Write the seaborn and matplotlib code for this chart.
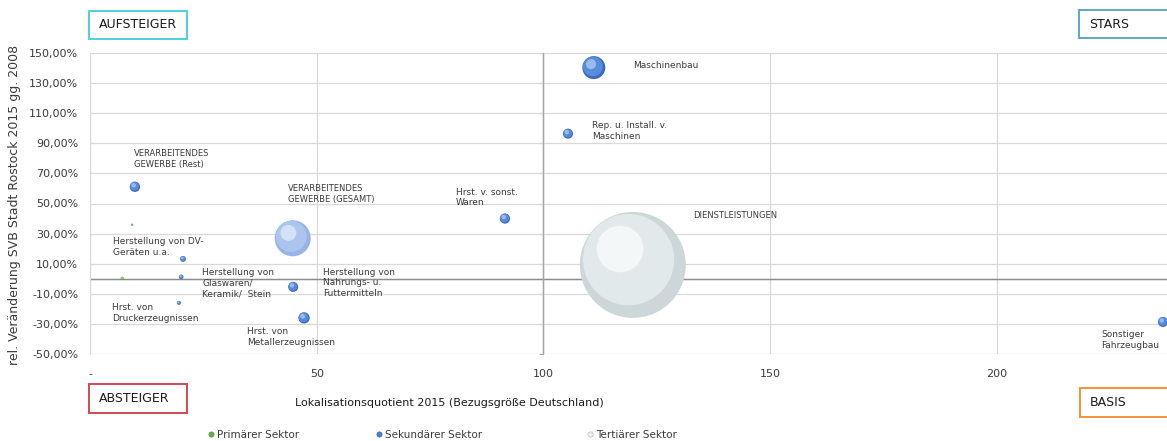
import numpy as np
import pandas as pd
import matplotlib.pyplot as plt
import seaborn as sns
from matplotlib.path import Path
from matplotlib.patches import Rectangle
from matplotlib.lines import Line2D
from matplotlib.ticker import FuncFormatter

# ---------- Daten ----------
beschriftung = [
    "Maschinenbau",
    "Rep. u. Install. v.\nMaschinen",
    "Hrst. v. sonst.\nWaren",
    "DIENSTLEISTUNGEN",
    "VERARBEITENDES\nGEWERBE (GESAMT)",
    "VERARBEITENDES\nGEWERBE (Rest)",
    "",
    "Herstellung von DV-\nGeräten u.a.",
    "Herstellung von\nGlaswaren/\nKeramik/  Stein",
    "",
    "Hrst. von\nDruckerzeugnissen",
    "Herstellung von\nNahrungs- u.\nFuttermitteln",
    "Hrst. von\nMetallerzeugnissen",
    "Sonstiger\nFahrzeugbau",
]
sektor = ["Sekundär", "Sekundär", "Sekundär", "Tertiär", "Gesamt", "Sekundär", "Sekundär",
          "Sekundär", "Sekundär", "Primär", "Sekundär", "Sekundär", "Sekundär", "Sekundär"]
lq_2015 = [111.1, 105.4, 91.5, 119.7, 44.7, 9.9, 9.3, 20.5, 20.1, 7.1, 19.6, 44.8, 47.2, 236.6]
veraenderung = [140.3, 96.4, 40.0, 9.2, 26.9, 61.1, 35.9, 13.2, 1.2, 0.3, -16.0, -5.4, -26.0, -28.7]
beschaeftigte = [3950, 750, 780, 84000, 9700, 800, 30, 260, 160, 70, 120, 750, 950, 750]

y_ticks = [-50, -30, -10, 10, 30, 50, 70, 90, 110, 130, 150]
x_ticks = [0, 50, 100, 150, 200]
x_labels = ["-", "50", "100", "150", "200"]

legend_labels = ["Primärer Sektor", "Sekundärer Sektor", "Tertiärer Sektor"]

df = pd.DataFrame({"label": beschriftung, "sektor": sektor, "lq": lq_2015,
                   "veraenderung": veraenderung, "beschaeftigte": beschaeftigte})

# label offsets in pixels relative to the bubble
label_offset = {
    "Maschinenbau": (39, 2), "Rep. u. Install. v.\nMaschinen": (24, 3),
    "Hrst. v. sonst.\nWaren": (-49, 21), "DIENSTLEISTUNGEN": (60, 49),
    "VERARBEITENDES\nGEWERBE (GESAMT)": (-5, 44), "VERARBEITENDES\nGEWERBE (Rest)": (-1, 28),
    "Herstellung von DV-\nGeräten u.a.": (-70, 12),
    "Herstellung von\nGlaswaren/\nKeramik/  Stein": (21, -6),
    "Hrst. von\nDruckerzeugnissen": (-67, -10),
    "Herstellung von\nNahrungs- u.\nFuttermitteln": (30, 4),
    "Hrst. von\nMetallerzeugnissen": (-57, -19), "Sonstiger\nFahrzeugbau": (-62, -18),
}

# colours for the shaded spheres: base, mid tone, highlight
base_col = {"Primär": "#5e9e3a", "Sekundär": "#3a69bd", "Tertiär": "#cdd7da", "Gesamt": "#97b5e4"}
mid_col = {"Primär": "#86c262", "Sekundär": "#6094e2", "Tertiär": "#e8eef0", "Gesamt": "#b2caef"}
hi_col = {"Primär": "#c6e6b4", "Sekundär": "#b0cbf3", "Tertiär": "#fbfcfc", "Gesamt": "#e2ecfa"}

sns.set_style("white")
plt.rcParams["font.family"] = ["DejaVu Sans"]
text_col = "#3a3a3a"

W, H = 1167, 441
fig = plt.figure(figsize=(W / 100, H / 100), dpi=100)
ax = fig.add_axes([90 / W, 1 - 354 / H, 1 - 90 / W, 301 / H])
x_max = 237.5
ax.set_xlim(0, x_max)
ax.set_ylim(-50, 150)

# bubbles
v_max = max(beschaeftigte)
s_max = 2.0736 * 53 ** 2
sns.scatterplot(data=df, x="lq", y="veraenderung", hue="sektor", palette=base_col,
                size="beschaeftigte", sizes=(0, s_max), size_norm=(0, v_max),
                linewidth=0, legend=False, ax=ax, zorder=3)

def offset_circle(cx, cy, r):
    c = Path.circle((cx, cy), r)
    verts = np.vstack([[0.5, 0.5], c.vertices])
    codes = np.concatenate([[Path.MOVETO], c.codes])
    return Path(verts, codes)

s_vals = df["beschaeftigte"] / v_max * s_max
ax.scatter(df["lq"], df["veraenderung"], s=s_vals, marker=offset_circle(-0.04, 0.05, 0.43),
           c=df["sektor"].map(mid_col), alpha=0.8, linewidths=0, zorder=4)
ax.scatter(df["lq"], df["veraenderung"], s=s_vals, marker=offset_circle(-0.12, 0.15, 0.22),
           c=df["sektor"].map(hi_col), alpha=0.75, linewidths=0, zorder=5)

for _, row in df.iterrows():
    if row["label"] == "":
        continue
    fs = 6 if "VERARB" in row["label"] or row["label"].isupper() else 6.5
    ax.annotate(row["label"], (row["lq"], row["veraenderung"]), xytext=label_offset[row["label"]],
                textcoords="offset pixels", ha="left", va="center", fontsize=fs,
                color=text_col, linespacing=1.25, zorder=6)

# grid and axes
ax.set_yticks(y_ticks)
ax.set_xticks(x_ticks)
ax.set_xticklabels(x_labels)
ax.yaxis.set_major_formatter(FuncFormatter(lambda v, p: f"{v:.2f}%".replace(".", ",")))
ax.grid(True, color="#d9d9d9", linewidth=0.9)
ax.set_axisbelow(True)
for s in ["top", "right", "bottom"]:
    ax.spines[s].set_visible(False)
ax.spines["left"].set_color("#d9d9d9")
ax.tick_params(axis="y", length=0, pad=8.5, labelsize=8, labelcolor=text_col)
ax.tick_params(axis="x", length=0, pad=11, labelsize=8, labelcolor=text_col)
ax.axhline(0, color="#8c8c8c", linewidth=1, zorder=2)
ax.axvline(100, color="#a6a6a6", linewidth=1, zorder=2)
ax.set_xlabel("")
ax.set_ylabel("")

sec_y = ax.secondary_yaxis(100 / x_max)
sec_y.set_yticks(y_ticks)
sec_y.tick_params(direction="out", length=3, color="#a6a6a6", labelleft=False, labelright=False)
for s in sec_y.spines.values():
    s.set_color("#a6a6a6")
sec_x = ax.secondary_xaxis(0.25)
sec_x.set_xticks(x_ticks)
sec_x.tick_params(direction="out", length=3, color="#8c8c8c", labelbottom=False, labeltop=False)
for s in sec_x.spines.values():
    s.set_color("#8c8c8c")

fig.text(15 / W, 1 - 205 / H, "rel. Veränderung SVB Stadt Rostock 2015 gg. 2008", rotation=90,
         ha="center", va="center", fontsize=9, color=text_col)
fig.text(449 / W, 1 - 403 / H, "Lokalisationsquotient 2015 (Bezugsgröße Deutschland)",
         ha="center", va="center", fontsize=8, color="#1a1a1a")

# quadrant boxes
def box(x0, y0, x1, y1, text, color):
    fig.add_artist(Rectangle((x0 / W, 1 - y1 / H), (x1 - x0) / W, (y1 - y0) / H,
                             transform=fig.transFigure, facecolor="white", edgecolor=color,
                             linewidth=1.4, clip_on=False))
    fig.text((x0 + 10) / W, 1 - (y0 + y1) / 2 / H, text, ha="left", va="center",
             fontsize=9, color="#1a1a1a")

box(89, 11, 187, 39, "AUFSTEIGER", "#4fd0dc")
box(1079, 10, 1180, 38, "STARS", "#5fa7c1")
box(89, 384, 187, 413, "ABSTEIGER", "#d1474f")
box(1080, 388, 1180, 417, "BASIS", "#f0953a")

# legend, one entry per position
legend_style = [("#6aac44", "#4f8c30"), ("#4a7fd6", "#2f5db5"), ("#eef2f3", "#a8b2b5")]
legend_x = [211, 379, 590]
for lab, (fc, ec), lx in zip(legend_labels, legend_style, legend_x):
    h = Line2D([], [], marker="o", linestyle="", markersize=3.8, markerfacecolor=fc,
               markeredgecolor=ec, markeredgewidth=0.4)
    fig.legend([h], [lab], loc="center left", bbox_to_anchor=((lx - 4.7) / W, 1 - 435 / H),
               frameon=False, fontsize=7.5, handletextpad=0.1, handlelength=0.9,
               borderpad=0, borderaxespad=0, labelcolor=text_col)

fig.savefig("out.png", dpi=100)
